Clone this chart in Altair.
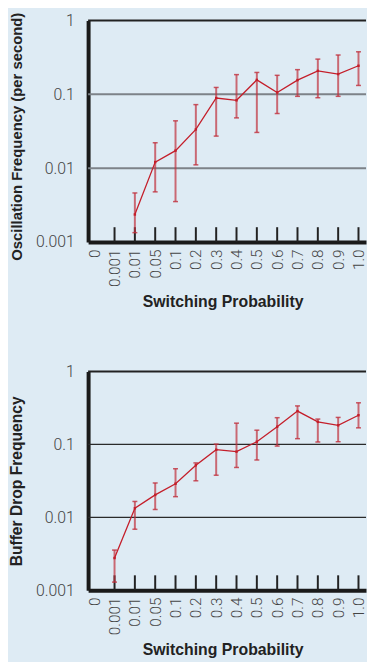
import altair as alt
import pandas as pd

# categories along the x axis
labels = ["0", "0.001", "0.01", "0.05", "0.1", "0.2", "0.3", "0.4", "0.5", "0.6", "0.7", "0.8", "0.9", "1.0"]

# Oscillation frequency (top panel), categories 0.01 .. 1.0
osc_idx = [2, 3, 4, 5, 6, 7, 8, 9, 10, 11, 12, 13]
osc_mean = [0.00236, 0.0121, 0.0173, 0.0335, 0.0892, 0.083, 0.157, 0.106, 0.156, 0.208, 0.188, 0.244]
osc_lo = [0.00134, 0.00478, 0.00353, 0.0111, 0.0272, 0.048, 0.0305, 0.055, 0.094, 0.090, 0.094, 0.132]
osc_hi = [0.00462, 0.0221, 0.0438, 0.0726, 0.124, 0.185, 0.198, 0.181, 0.216, 0.300, 0.341, 0.377]

# Buffer drop frequency (bottom panel), categories 0.001 .. 1.0
buf_idx = [1, 2, 3, 4, 5, 6, 7, 8, 9, 10, 11, 12, 13]
buf_mean = [0.00276, 0.0133, 0.0203, 0.0289, 0.0518, 0.0847, 0.0797, 0.109, 0.175, 0.287, 0.204, 0.183, 0.252]
buf_lo = [0.00129, 0.00686, 0.0128, 0.0192, 0.0317, 0.0378, 0.0483, 0.0612, 0.095, 0.120, 0.108, 0.109, 0.169]
buf_hi = [0.00355, 0.0165, 0.0296, 0.0464, 0.0558, 0.101, 0.196, 0.157, 0.233, 0.338, 0.223, 0.235, 0.373]

y_ticks = [0.001, 0.01, 0.1, 1]
grid_vals = [0.01, 0.1]
tick_idx = list(range(1, 14))

RED = "#c41e2a"
label_expr = "[" + ",".join("'%s'" % l for l in labels) + "][datum.value]"

W = 281
TFONT = "Liberation Sans"


def panel(idx, mean, lo, hi, ytitle, ytitle_size, ytitle_shift, grid_color, grid_width, height):
    df = pd.DataFrame({"i": idx, "m": mean, "lo": lo, "hi": hi})
    xscale = alt.Scale(domain=[-0.30, 13.37], nice=False, zero=False)
    yscale = alt.Scale(type="log", domain=[0.001, 1], nice=False)
    xaxis = alt.Axis(
        values=list(range(14)), labelExpr=label_expr, labelAngle=-90, labelOverlap=False,
        ticks=False, grid=False, domainWidth=4, domainColor="#1a1a1a",
        labelPadding=7, labelFont="Roboto", labelFontWeight=300, labelFontSize=15.5,
        labelColor="#444444", title="Switching Probability", titleFont=TFONT,
        titleFontWeight="bold", titleFontSize=16, titleColor="#222222",
        titlePadding=7, titleX=136,
    )
    yaxis = alt.Axis(
        values=y_ticks, format="~g", ticks=False, grid=False, domainWidth=4,
        domainColor="#1a1a1a", labelPadding=14, labelFont="Roboto", labelFontWeight=300,
        labelFontSize=16, labelColor="#444444", title=ytitle, titleFont=TFONT,
        titleFontWeight="bold", titleFontSize=ytitle_size, titleColor="#222222", titlePadding=11,
        titleY=height / 2 + ytitle_shift,
    )
    X = lambda f: alt.X(f, scale=xscale, axis=xaxis)
    Y = lambda f: alt.Y(f, scale=yscale, axis=yaxis)
    base = alt.Chart(df)
    gdf = pd.DataFrame({"g": grid_vals})
    grid = alt.Chart(gdf).mark_rule(color=grid_color, strokeWidth=grid_width).encode(y=Y("g:Q"))
    top = alt.Chart(pd.DataFrame({"t": [1]})).mark_rule(color="#222222", strokeWidth=2).encode(y=Y("t:Q"))
    tdf = pd.DataFrame({"k": tick_idx})
    ticks = alt.Chart(tdf).mark_rule(color="#222222", strokeWidth=2).encode(
        x=X("k:Q"), y=alt.value(height - 15), y2=alt.value(height),
    )
    bars = base.mark_rule(color="#c0303c", strokeWidth=2, opacity=0.7).encode(
        x=X("i:Q"), y=Y("lo:Q"), y2="hi:Q"
    )
    cap_lo = base.mark_tick(color="#c0303c", thickness=1.5, size=5, opacity=0.8, orient="horizontal").encode(
        x=X("i:Q"), y=Y("lo:Q")
    )
    cap_hi = base.mark_tick(color="#c0303c", thickness=1.5, size=5, opacity=0.8, orient="horizontal").encode(
        x=X("i:Q"), y=Y("hi:Q")
    )
    line = base.mark_line(color=RED, strokeWidth=1.3).encode(x=X("i:Q"), y=Y("m:Q"))
    pts = base.mark_point(color=RED, filled=True, size=6, shape="square", opacity=1).encode(
        x=X("i:Q"), y=Y("m:Q")
    )
    return alt.layer(grid, top, ticks, bars, cap_lo, cap_hi, line, pts).properties(width=W, height=height)


p1 = panel(osc_idx, osc_mean, osc_lo, osc_hi, "Oscillation Frequency (per second)", 15, 5,
           "#7d8288", 2, 224)
p2 = panel(buf_idx, buf_mean, buf_lo, buf_hi, "Buffer Drop Frequency", 15.8, 0,
           "#2a2a2a", 1.2, 221)

chart = alt.vconcat(p1, p2, spacing=54).properties(
    background="#deebf4",
    padding={"left": 0, "top": 0, "right": 0, "bottom": 0},
).configure_view(strokeWidth=0).configure_axis(labelOverlap=False)

chart.save("out.html", embed_options={"renderer": "svg", "actions": False})
